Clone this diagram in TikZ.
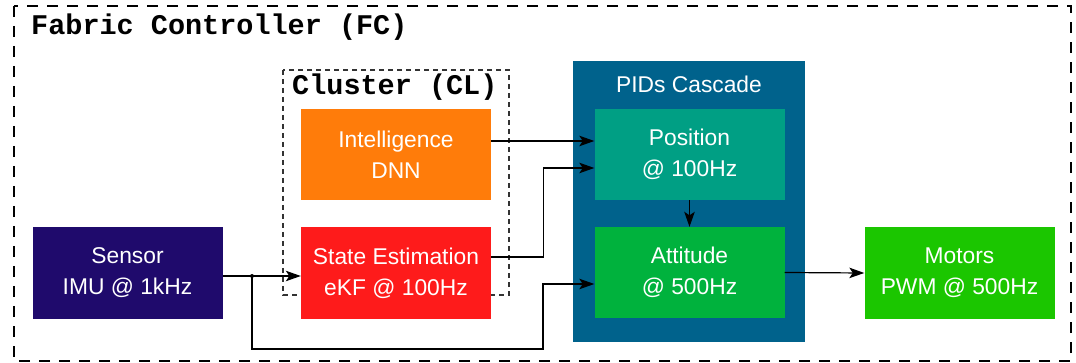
\documentclass[tikz,border=0pt]{standalone}
\usepackage{fontspec}
\setmainfont{Liberation Sans}
\newfontfamily\monob{Liberation Mono}
\usetikzlibrary{arrows.meta}
\definecolor{sensorc}{HTML}{1F0A6C}
\definecolor{intelc}{HTML}{FF7C0A}
\definecolor{statec}{HTML}{FE1B1B}
\definecolor{pidsc}{HTML}{00628C}
\definecolor{posc}{HTML}{009F84}
\definecolor{attc}{HTML}{00B23D}
\definecolor{motc}{HTML}{1BC600}
\definecolor{clc}{HTML}{333333}
\begin{document}
\begin{tikzpicture}[x=1pt,y=-1pt,
  blk/.style={rectangle, draw=none, minimum width=190pt, minimum height=91pt, inner sep=0pt, text=white, align=center, font=\fontsize{22.8}{31}\selectfont},
  arr/.style={line width=1.2pt, -{Stealth[length=15pt,width=10.5pt,inset=3.5pt]}},
  ln/.style={line width=1.2pt},
  ttl/.style={font=\monob\bfseries\fontsize{28.5}{32}\selectfont, inner sep=0pt, anchor=base west}]
\useasboundingbox (0,0) rectangle (1076,363);
% outer frame
\draw[line width=2pt, dash pattern=on 11pt off 9pt] (14,6) rectangle (1071,361);
\node[ttl] (fctitle) at (31,35) {Fabric Controller (FC)};
% cluster frame
\draw[clc, line width=1.5pt, dash pattern=on 5pt off 4pt] (283,70) rectangle (509,295);
\node[ttl] (cltitle) at (292,95) {Cluster (CL)};
% PIDs cascade
\node[rectangle, fill=pidsc, minimum width=232pt, minimum height=281pt, inner sep=0pt] (pids) at (689,201.5) {};
\node[text=white, font=\fontsize{22.8}{31}\selectfont, inner sep=0pt] (pidslbl) at (689,84) {PIDs Cascade};
% blocks
\node[blk, fill=sensorc] (sensor) at (127.5,273) {Sensor\\IMU @ 1kHz};
\node[blk, fill=intelc] (intel) at (396,154.5) {Intelligence\\DNN};
\node[blk, fill=statec] (state) at (396,273) {State Estimation\\eKF @ 100Hz};
\node[blk, fill=posc] (pos) at (689.5,154.5) {Position\\@ 100Hz};
\node[blk, fill=attc] (att) at (689.5,272.5) {Attitude\\@ 500Hz};
\node[blk, fill=motc] (mot) at (959.5,273) {Motors\\PWM @ 500Hz};
% connectors
\draw[arr] ([yshift=13.5pt]intel.east) -- ([yshift=13.5pt]pos.west);
\draw[arr] ([yshift=16pt]state.east) -- ++(52,0) |- ([yshift=-13.5pt]pos.west);
\draw[arr] ([yshift=-3pt]sensor.east) -- ([yshift=-3pt]state.west);
\coordinate (jn) at (252,276);
\coordinate (bend) at (543,349);
\fill (jn) circle (2pt);
\draw[arr] (jn) |- (bend) |- ([yshift=-11.5pt]att.west);
\draw[arr] (pos.south) -- (att.north);
\draw[arr] (att.east) -- (mot.west);
\end{tikzpicture}
\end{document}
